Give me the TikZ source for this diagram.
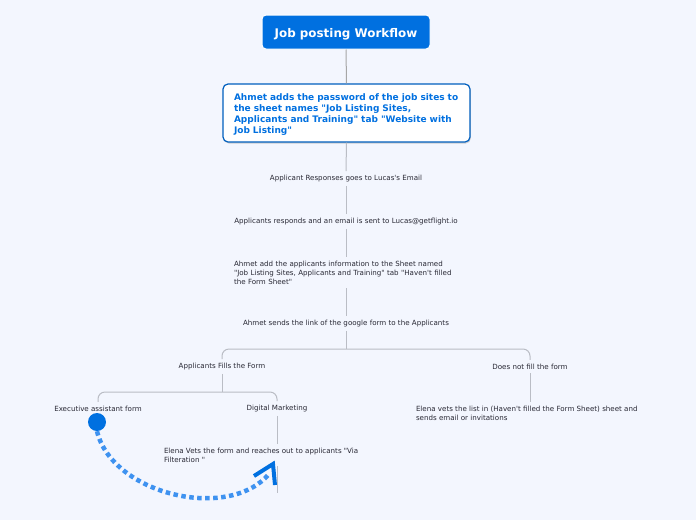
\documentclass[tikz,border=0pt]{standalone}
\usepackage{fontspec}
\setmainfont{DejaVu Sans}[Ligatures=TeXOff]
\usetikzlibrary{shadows}
\definecolor{bg}{RGB}{243,246,254}
\definecolor{mmblue}{RGB}{0,112,224}
\definecolor{dotblue}{RGB}{62,146,240}
\definecolor{connc}{RGB}{186,189,197}
\definecolor{txt}{RGB}{40,40,52}
\begin{document}
\begin{tikzpicture}[x=1pt,y=-1pt,
  conn/.style={draw=connc, line width=1pt},
  leaf/.style={font=\fontsize{7.1}{9}\selectfont, text=txt, inner sep=0pt, outer sep=4pt},
  titlebox/.style={fill=mmblue, draw=white, line width=1pt, rounded corners=4pt,
    minimum width=168pt, minimum height=34pt, text=white,
    font=\fontsize{11.9}{13}\selectfont\bfseries},
  mainbox/.style={fill=white, draw=mmblue!85!black, line width=1.2pt, rounded corners=5pt,
    minimum width=247pt, minimum height=58pt, text width=225pt, align=left,
    text=mmblue, font=\fontsize{9}{11}\selectfont\bfseries,
    drop shadow={shadow xshift=0.8pt, shadow yshift=-1.5pt, opacity=0.35}},
  dotarc/.style={draw=dotblue, line width=4.5pt, dash pattern=on 4.5pt off 3.5pt},
  chevron/.style={draw=mmblue, line width=4pt}
]
\fill[bg] (0,0) rectangle (696,520);
\useasboundingbox (0,0) rectangle (696,520);

\node[titlebox] (t) at (346,32) {\raisebox{-5pt}[0pt][0pt]{Job posting Workflow}};
\node[mainbox] (b) at (346.5,113) {\rule{0pt}{10.8pt}Ahmet adds the password of the job sites to\\the sheet names "Job Listing Sites,\\Applicants and Training" tab "Website with\\Job Listing"};

\node[leaf] (n1) at (346,178.5) {Applicant Responses goes to Lucas's Email};
\node[leaf] (n2) at (346,221.5) {Applicants responds and an email is sent to Lucas@getflight.io};
\node[leaf, text width=224pt, align=left] (n3) at (346,272.5) {Ahmet add the applicants information to the Sheet named\\"Job Listing Sites, Applicants and Training" tab "Haven't filled\\the Form Sheet"};
\node[leaf] (n4) at (346,323.5) {Ahmet sends the link of the google form to the Applicants};

\node[leaf] (f) at (222,366.5) {Applicants Fills the Form};
\node[leaf] (nf) at (530,366.5) {Does not fill the form};
\node[leaf] (ea) at (98,408.5) {Executive assistant form};
\node[leaf] (dm) at (277,408.5) {Digital Marketing};
\node[leaf, anchor=west, align=left, outer sep=0pt] (ev) at (164,455.5) {Elena Vets the form and reaches out to applicants "Via\\Filteration "};
\node[leaf, anchor=west, align=left, outer sep=0pt] (el) at (416,413) {Elena vets the list in (Haven't filled the Form Sheet) sheet and\\sends email or invitations};

\coordinate (j1) at (346,349);
\coordinate (j2) at (222,392);
\coordinate (dmend) at (277,493);

\draw[conn, draw=gray!70] (t.south) -- (b.north);
\draw[conn] (b.south) -- (n1.north);
\draw[conn] (n1.south) -- (n2.north);
\draw[conn] (n2.south) -- (n3.north);
\draw[conn] (n3.south) -- (n4.north);
\draw[conn] (n4.south) -- (j1);
\draw[conn, rounded corners=7pt] (f.north) |- (j1) -| (nf.north);
\draw[conn] (f.south) -- (j2);
\draw[conn, rounded corners=7pt] (ea.north) |- (j2) -| (dm.north);
\draw[conn] (dm.south) -- ([yshift=4pt]dm.south |- ev.north);
\draw[conn] ([yshift=-3pt]dm.south |- ev.south) -- (dmend);
\draw[conn] (nf.south) -- ([yshift=4pt]nf.south |- el.north);

\node[circle, fill=mmblue, minimum size=18pt, inner sep=0pt] (c) at (97,422) {};
\coordinate (arcend) at (269,474);
\coordinate (tip) at (273,464);
\draw[dotarc] (c.south) .. controls (112,494) and (228,522) .. (arcend);
\draw[chevron] (254,476) -- (tip) -- (275,485);
\end{tikzpicture}
\end{document}
